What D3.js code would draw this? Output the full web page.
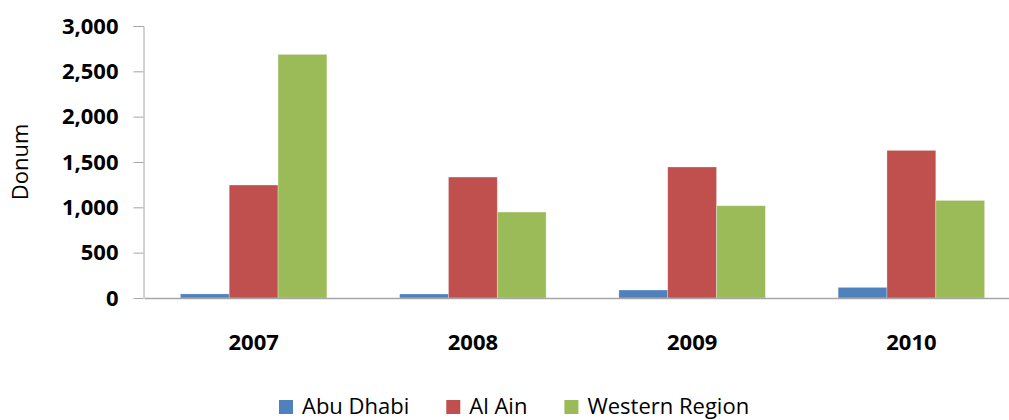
<!DOCTYPE html>
<html>
<head>
<meta charset="utf-8">
<script src="https://cdn.jsdelivr.net/npm/d3@7"></script>
<style>
  html, body { margin: 0; padding: 0; background: #fff; }
  svg { display: block; }
  text { font-family: "Open Sans", sans-serif; }
</style>
</head>
<body>
<svg id="chart" width="1009" height="420"></svg>
<script>
const categories = ["2007", "2008", "2009", "2010"];
const seriesNames = ["Abu Dhabi", "Al Ain", "Western Region"];
const abuDhabi = [45, 44, 88, 117];
const alAin = [1246, 1334, 1445, 1628];
const westernRegion = [2687, 948, 1018, 1076];
const yTicks = [0, 500, 1000, 1500, 2000, 2500, 3000];
const colors = ["#4F81BD", "#C0504D", "#9BBB59"];
const seriesValues = [abuDhabi, alAin, westernRegion];

const svg = d3.select("#chart");
const mLeft = 144, mRight = 1021, mTop = 26, mBottom = 298;

const x = d3.scaleBand().domain(categories).range([mLeft, mRight]).padding(0);
const xs = d3.scaleBand().domain(seriesNames).range([0, x.bandwidth()]).paddingInner(0).paddingOuter(0.745);
const y = d3.scaleLinear().domain([0, 3000]).range([mBottom, mTop]);

const axisColor = "#A6A6A6";

// Bars
categories.forEach((cat, ci) => {
  const g = svg.append("g").attr("transform", `translate(${x(cat)},0)`);
  seriesNames.forEach((s, si) => {
    const v = seriesValues[si][ci];
    g.append("rect")
      .attr("x", xs(s))
      .attr("y", y(v))
      .attr("width", xs.bandwidth())
      .attr("height", mBottom - y(v))
      .attr("fill", colors[si])
      .attr("stroke", "rgba(255,255,255,0.35)")
      .attr("stroke-width", 0.8);
  });
});

// Y axis
const yAxis = d3.axisLeft(y).tickValues(yTicks).tickSize(10).tickPadding(15)
  .tickFormat(d3.format(","));
const yg = svg.append("g").attr("transform", `translate(${mLeft - 0.5},0)`).call(yAxis);
yg.select(".domain").attr("stroke", axisColor).attr("d", `M-10,${mTop}.5H0.5V${mBottom}`);
yg.selectAll(".tick line").attr("stroke", axisColor);
yg.selectAll(".tick text")
  .attr("font-family", "'Open Sans', sans-serif")
  .attr("font-size", 22).attr("font-weight", "bold").attr("fill", "#000");

// X axis baseline
const xAxis = d3.axisBottom(x).tickSize(0).tickPadding(0);
const xg = svg.append("g").attr("transform", `translate(0,${mBottom})`).call(xAxis);
xg.select(".domain").attr("stroke", axisColor).attr("stroke-width", 1.5);
xg.selectAll(".tick text")
  .attr("font-family", "'Open Sans', sans-serif")
  .attr("font-size", 22).attr("font-weight", "bold").attr("fill", "#000")
  .attr("dy", 0).attr("y", 52);

// Y title
svg.append("text")
  .attr("transform", `translate(28,162) rotate(-90)`)
  .attr("text-anchor", "middle")
  .attr("font-size", 22)
  .attr("fill", "#000")
  .text("Donum");

// Legend
const legend = svg.append("g");
let lx = 279;
seriesNames.forEach((s, i) => {
  legend.append("rect").attr("x", lx).attr("y", 400).attr("width", 14).attr("height", 14).attr("fill", colors[i]);
  const t = legend.append("text").attr("x", lx + 23).attr("y", 414)
    .attr("font-size", 22).attr("fill", "#000").text(s);
  lx = lx + 23 + t.node().getComputedTextLength() + 37;
});
</script>
</body>
</html>
